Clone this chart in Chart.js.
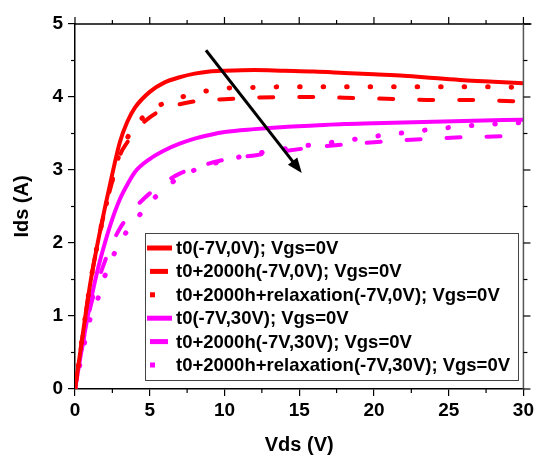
<!DOCTYPE html>
<html>
<head>
<meta charset="utf-8">
<script src="https://cdn.jsdelivr.net/npm/chart.js@4.4.1/dist/chart.umd.min.js"></script>
<style>
  html, body { margin: 0; padding: 0; background: #fff; }
  #wrap { width: 537px; height: 457px; position: relative; }
</style>
</head>
<body>
<div id="wrap"><canvas id="myChart"></canvas></div>
<script>
// drain voltage (V) sample points
var vds = [0, 0.5, 1, 1.5, 2, 2.5, 3, 3.5, 4, 5, 6, 7, 8, 9, 10, 12, 14, 16, 18, 20, 22, 24, 26, 28, 30];

// Ids (A) for each curve
var redT0 = [0, 0.72, 1.42, 1.98, 2.48, 2.95, 3.38, 3.66, 3.85, 4.07, 4.2, 4.27, 4.32, 4.35, 4.36, 4.37, 4.36, 4.35, 4.33, 4.31, 4.29, 4.26, 4.23, 4.21, 4.19];
var red2000 = [0, 0.72, 1.42, 1.98, 2.45, 2.85, 3.2, 3.38, 3.53, 3.72, 3.84, 3.9, 3.94, 3.96, 3.97, 3.99, 4.0, 4.0, 3.99, 3.98, 3.97, 3.96, 3.96, 3.95, 3.94];
var redRelax = [0, 0.72, 1.42, 1.98, 2.45, 2.87, 3.24, 3.44, 3.6, 3.8, 3.92, 3.99, 4.05, 4.09, 4.12, 4.13, 4.14, 4.14, 4.14, 4.14, 4.14, 4.14, 4.14, 4.14, 4.13];
var magT0 = [0, 0.6, 1.15, 1.62, 2.0, 2.33, 2.6, 2.8, 2.97, 3.15, 3.27, 3.36, 3.43, 3.48, 3.52, 3.56, 3.59, 3.61, 3.63, 3.64, 3.65, 3.66, 3.67, 3.68, 3.69];
var mag2000 = [0, 0.6, 1.1, 1.45, 1.75, 2.0, 2.2, 2.35, 2.48, 2.68, 2.83, 2.95, 3.03, 3.09, 3.14, 3.2, 3.26, 3.31, 3.35, 3.38, 3.41, 3.43, 3.45, 3.46, 3.48];
var magRelax = [0, 0.5, 0.95, 1.22, 1.55, 1.8, 2.0, 2.17, 2.3, 2.55, 2.75, 2.9, 3.0, 3.07, 3.13, 3.22, 3.29, 3.35, 3.4, 3.46, 3.51, 3.56, 3.6, 3.63, 3.65];

var labels = [
  "t0(-7V,0V); Vgs=0V",
  "t0+2000h(-7V,0V); Vgs=0V",
  "t0+2000h+relaxation(-7V,0V); Vgs=0V",
  "t0(-7V,30V); Vgs=0V",
  "t0+2000h(-7V,30V); Vgs=0V",
  "t0+2000h+relaxation(-7V,30V); Vgs=0V"
];

// arrow from / to, in data units
var arrowFrom = [8.76, 4.64];
var arrowTo = [15.17, 2.96];

var FONT = "'Liberation Sans', Arial, sans-serif";
var RED = "#ff0000", MAG = "#ff00ff";
var DASH = [14, 26], DOT = [0.5, 23];

function pts(ys) {
  return vds.map(function (x, i) { return { x: x, y: ys[i] }; });
}
function ds(label, ys, color, dash) {
  return {
    label: label,
    data: pts(ys),
    borderColor: color,
    backgroundColor: color,
    borderWidth: dash === DOT ? 5 : 4,
    borderDash: dash || [],
    borderCapStyle: dash ? 'round' : 'butt',
    pointRadius: 0,
    cubicInterpolationMode: 'monotone',
    fill: false
  };
}

var framePlugin = {
  id: 'frame',
  afterDraw: function (chart) {
    var c = chart.ctx, a = chart.chartArea;
    var xs = chart.scales.x, ys = chart.scales.y;
    c.save();
    c.lineCap = 'butt';
    // top and right border
    c.strokeStyle = '#000';
    c.lineWidth = 1.5;
    c.beginPath(); c.moveTo(a.left, a.top); c.lineTo(a.right + 8, a.top); c.stroke();
    c.strokeStyle = '#555';
    c.beginPath(); c.moveTo(a.right, a.top); c.lineTo(a.right, a.bottom); c.stroke();
    // ticks
    c.strokeStyle = '#000';
    c.lineWidth = 1.2;
    var v, p;
    for (v = 0; v <= 30.01; v += 2.5) {
      p = xs.getPixelForValue(v);
      var major = Math.abs(v % 5) < 0.01;
      var len = major ? 7 : 4;
      c.beginPath(); c.moveTo(p, a.top); c.lineTo(p, a.top - len); c.stroke();
      if (!major) { c.beginPath(); c.moveTo(p, a.bottom); c.lineTo(p, a.bottom + len); c.stroke(); }
    }
    for (v = 0; v <= 5.01; v += 0.5) {
      p = ys.getPixelForValue(v);
      var majorY = Math.abs(v % 1) < 0.01;
      var lenY = majorY ? 7 : 4;
      c.beginPath(); c.moveTo(a.right, p); c.lineTo(a.right + lenY, p); c.stroke();
      if (!majorY) { c.beginPath(); c.moveTo(a.left, p); c.lineTo(a.left - lenY, p); c.stroke(); }
    }
    // arrow
    var x1 = xs.getPixelForValue(arrowFrom[0]), y1 = ys.getPixelForValue(arrowFrom[1]);
    var x2 = xs.getPixelForValue(arrowTo[0]), y2 = ys.getPixelForValue(arrowTo[1]);
    var ang = Math.atan2(y2 - y1, x2 - x1);
    var hl = 16;
    c.strokeStyle = '#000';
    c.fillStyle = '#000';
    c.lineWidth = 3;
    c.beginPath(); c.moveTo(x1, y1);
    c.lineTo(x2 - hl * 0.8 * Math.cos(ang), y2 - hl * 0.8 * Math.sin(ang)); c.stroke();
    c.beginPath();
    c.moveTo(x2, y2);
    c.lineTo(x2 - hl * Math.cos(ang - 0.38), y2 - hl * Math.sin(ang - 0.38));
    c.lineTo(x2 - hl * Math.cos(ang + 0.38), y2 - hl * Math.sin(ang + 0.38));
    c.closePath(); c.fill();
    // legend box
    var bx = 145, by = 233, bw = 373, bh = 147;
    c.fillStyle = '#fff';
    c.fillRect(bx, by, bw, bh);
    c.strokeStyle = '#444';
    c.lineWidth = 1;
    c.strokeRect(bx + 0.5, by + 0.5, bw, bh);
    c.font = 'bold 18.5px ' + FONT;
    c.textBaseline = 'middle';
    c.textAlign = 'left';
    chart.data.datasets.forEach(function (d, i) {
      var ry = 248 + i * 23.4;
      c.strokeStyle = d.borderColor;
      c.fillStyle = d.borderColor;
      if (!d.borderDash.length) {
        c.lineWidth = 5;
        c.beginPath(); c.moveTo(147, ry); c.lineTo(172, ry); c.stroke();
      } else if (d.borderDash === DASH) {
        c.lineWidth = 5;
        c.beginPath(); c.moveTo(150, ry); c.lineTo(168, ry); c.stroke();
      } else {
        c.fillRect(150, ry - 2.5, 5, 5);
      }
      c.fillStyle = '#000';
      c.fillText(d.label, 176, ry + 1);
    });
    c.restore();
  }
};

var ctx = document.getElementById("myChart");

var myChart = new Chart(ctx, {
  type: 'line',
  data: {
    datasets: [
      ds(labels[0], redT0, RED),
      ds(labels[1], red2000, RED, DASH),
      ds(labels[2], redRelax, RED, DOT),
      ds(labels[3], magT0, MAG),
      ds(labels[4], mag2000, MAG, DASH),
      ds(labels[5], magRelax, MAG, DOT)
    ]
  },
  options: {
    responsive: true,
    maintainAspectRatio: false,
    animation: false,
    layout: { padding: { top: 24, right: 11, left: 0, bottom: 0 } },
    plugins: {
      legend: { display: false },
      tooltip: { enabled: false }
    },
    scales: {
      x: {
        type: 'linear',
        min: 0,
        max: 30,
        afterFit: function (s) { s.height = 68; },
        border: { display: true, color: '#000', width: 1.5 },
        grid: { display: true, drawOnChartArea: false, color: '#000', lineWidth: 1.2, tickLength: 7 },
        ticks: { stepSize: 5, color: '#000', padding: 3, font: { family: FONT, size: 19, weight: 'bold' } },
        title: { display: true, text: 'Vds (V)', color: '#000', padding: { top: 0, bottom: 0 }, font: { family: FONT, size: 20, weight: 'bold' } }
      },
      y: {
        min: 0,
        max: 5,
        afterFit: function (s) { s.width = 75; },
        border: { display: true, color: '#000', width: 1.5 },
        grid: { display: true, drawOnChartArea: false, color: '#000', lineWidth: 1.2, tickLength: 7 },
        ticks: { stepSize: 1, color: '#000', padding: 5, font: { family: FONT, size: 19, weight: 'bold' } },
        title: { display: true, text: 'Ids (A)', color: '#000', padding: { top: 10, bottom: 0 }, font: { family: FONT, size: 20, weight: 'bold' } }
      }
    }
  },
  plugins: [framePlugin]
});
</script>
</body>
</html>
